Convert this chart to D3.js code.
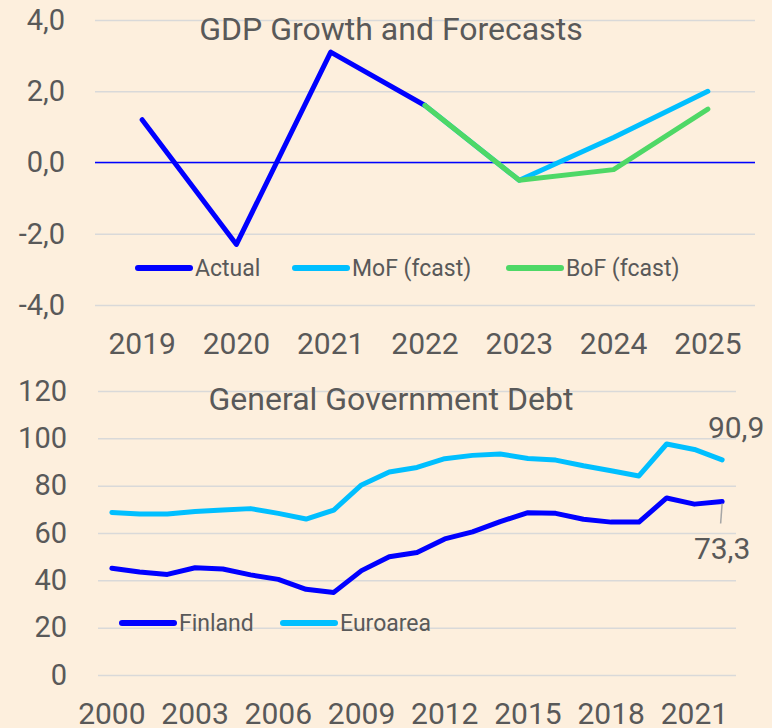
<!DOCTYPE html>
<html>
<head>
<meta charset="utf-8">
<script src="https://cdn.jsdelivr.net/npm/d3@7"></script>
<style>
body { margin: 0; background: #fdefdd; }
text { font-family: Roboto, sans-serif; fill: #595959; }
</style>
</head>
<body>
<script>
// GDP panel
var gdpYears = ["2019", "2020", "2021", "2022", "2023", "2024", "2025"];
var gdpActual = [1.2, -2.3, 3.1, 1.6, null, null, null];
var gdpMoF    = [null, null, null, 1.6, -0.5, 0.7, 2.0];
var gdpBoF    = [null, null, null, 1.6, -0.5, -0.2, 1.5];
var gdpTicks  = [-4, -2, 0, 2, 4];

// debt panel
var debtYears = d3.range(2000, 2023).map(String);
var debtFinland = [45.1, 43.5, 42.5, 45.3, 44.8, 42.3, 40.4, 36.2, 34.9, 44.1, 50.0, 51.8,
                   57.5, 60.5, 64.8, 68.6, 68.3, 65.8, 64.6, 64.6, 74.8, 72.2, 73.3];
var debtEuro = [68.7, 68.0, 68.0, 69.1, 69.7, 70.3, 68.3, 65.9, 69.7, 80.3, 85.8, 87.7,
                91.4, 92.8, 93.4, 91.5, 90.8, 88.4, 86.3, 84.1, 97.6, 95.3, 90.9];
var debtTicks = [0, 20, 40, 60, 80, 100, 120];
var debtXTicks = ["2000", "2003", "2006", "2009", "2012", "2015", "2018", "2021"];

var blue = "#0000ff", cyan = "#00bfff", green = "#4ed866";

var svg = d3.select("body").append("svg")
.attr("width", 772)
.attr("height", 728);

svg.append("rect").attr("width", 772).attr("height", 728).attr("fill", "#fdefdd");

// ---------- top chart ----------
var x1 = d3.scaleBand().domain(gdpYears).range([95, 755]).padding(0);
var y1 = d3.scaleLinear().domain([-4, 4]).range([305, 20]);

var yAxis1 = svg.append("g")
.attr("transform", "translate(95,0)")
.call(d3.axisLeft(y1).tickValues(gdpTicks).tickSize(-660).tickPadding(30)
  .tickFormat(function(d) { return d3.format(".1f")(d).replace(".", ",").replace("−", "-"); }));
yAxis1.select(".domain").remove();
yAxis1.selectAll("line").attr("stroke", "#d9d9d9").attr("stroke-width", 1.5);
yAxis1.selectAll("text").attr("font-size", 29).attr("fill", "#595959");

var xAxis1 = svg.append("g")
.attr("transform", "translate(0,305)")
.call(d3.axisBottom(x1).tickSize(0).tickPadding(28));
xAxis1.select(".domain").remove();
xAxis1.selectAll("text").attr("font-size", 30).attr("fill", "#595959");

svg.append("line")
.attr("x1", 95).attr("x2", 755)
.attr("y1", y1(0)).attr("y2", y1(0))
.attr("stroke", blue).attr("stroke-width", 1.5);

svg.append("text")
.attr("x", 391).attr("y", 40)
.attr("text-anchor", "middle")
.attr("font-size", 32)
.text("GDP Growth and Forecasts");

var line1 = d3.line()
.defined(function(d) { return d != null; })
.x(function(d, i) { return x1(gdpYears[i]) + x1.bandwidth() / 2; })
.y(function(d) { return y1(d); });

[[gdpActual, blue], [gdpMoF, cyan], [gdpBoF, green]].forEach(function(s) {
  svg.append("path")
  .attr("d", line1(s[0]))
  .attr("fill", "none")
  .attr("stroke", s[1])
  .attr("stroke-width", 5)
  .attr("stroke-linecap", "round")
  .attr("stroke-linejoin", "round");
});

var legend1 = [["Actual", blue, 138], ["MoF (fcast)", cyan, 295], ["BoF (fcast)", green, 509]];
legend1.forEach(function(l) {
  svg.append("line")
  .attr("x1", l[2]).attr("x2", l[2] + 52)
  .attr("y1", 268).attr("y2", 268)
  .attr("stroke", l[1]).attr("stroke-width", 6).attr("stroke-linecap", "round");
  svg.append("text")
  .attr("x", l[2] + 57).attr("y", 276)
  .attr("font-size", 23)
  .text(l[0]);
});

// ---------- bottom chart ----------
var x2 = d3.scaleBand().domain(debtYears).range([98, 736]).padding(0);
var y2 = d3.scaleLinear().domain([0, 120]).range([675, 391]);

var yAxis2 = svg.append("g")
.attr("transform", "translate(98,0)")
.call(d3.axisLeft(y2).tickValues(debtTicks).tickSize(-638).tickPadding(31));
yAxis2.select(".domain").remove();
yAxis2.selectAll("line").attr("stroke", "#d9d9d9").attr("stroke-width", 1.5);
yAxis2.selectAll("text").attr("font-size", 29).attr("fill", "#595959");

var xAxis2 = svg.append("g")
.attr("transform", "translate(0,675)")
.call(d3.axisBottom(x2).tickValues(debtXTicks).tickSize(0).tickPadding(28));
xAxis2.select(".domain").remove();
xAxis2.selectAll("text").attr("font-size", 30).attr("fill", "#595959");

svg.append("text")
.attr("x", 391).attr("y", 410)
.attr("text-anchor", "middle")
.attr("font-size", 32)
.text("General Government Debt");

var line2 = d3.line()
.x(function(d, i) { return x2(debtYears[i]) + x2.bandwidth() / 2; })
.y(function(d) { return y2(d); });

[[debtEuro, cyan], [debtFinland, blue]].forEach(function(s) {
  svg.append("path")
  .attr("d", line2(s[0]))
  .attr("fill", "none")
  .attr("stroke", s[1])
  .attr("stroke-width", 5)
  .attr("stroke-linecap", "round")
  .attr("stroke-linejoin", "round");
});

// end labels
var lastX = x2("2022") + x2.bandwidth() / 2;
var lastEuro = debtEuro[debtEuro.length - 1];
var lastFin = debtFinland[debtFinland.length - 1];

svg.append("text")
.attr("x", lastX + 14).attr("y", y2(lastEuro) - 22)
.attr("text-anchor", "middle")
.attr("font-size", 30)
.text(d3.format(".1f")(lastEuro).replace(".", ","));

svg.append("line")
.attr("x1", lastX).attr("x2", lastX - 1.5)
.attr("y1", y2(lastFin) + 2).attr("y2", y2(lastFin) + 22)
.attr("stroke", "#a6a6a6").attr("stroke-width", 1.5);

svg.append("text")
.attr("x", lastX).attr("y", y2(lastFin) + 57)
.attr("text-anchor", "middle")
.attr("font-size", 30)
.text(d3.format(".1f")(lastFin).replace(".", ","));

var legend2 = [["Finland", blue, 122], ["Euroarea", cyan, 283]];
legend2.forEach(function(l) {
  svg.append("line")
  .attr("x1", l[2]).attr("x2", l[2] + 52)
  .attr("y1", 623).attr("y2", 623)
  .attr("stroke", l[1]).attr("stroke-width", 6).attr("stroke-linecap", "round");
  svg.append("text")
  .attr("x", l[2] + 57).attr("y", 631)
  .attr("font-size", 23)
  .text(l[0]);
});
</script>
</body>
</html>
